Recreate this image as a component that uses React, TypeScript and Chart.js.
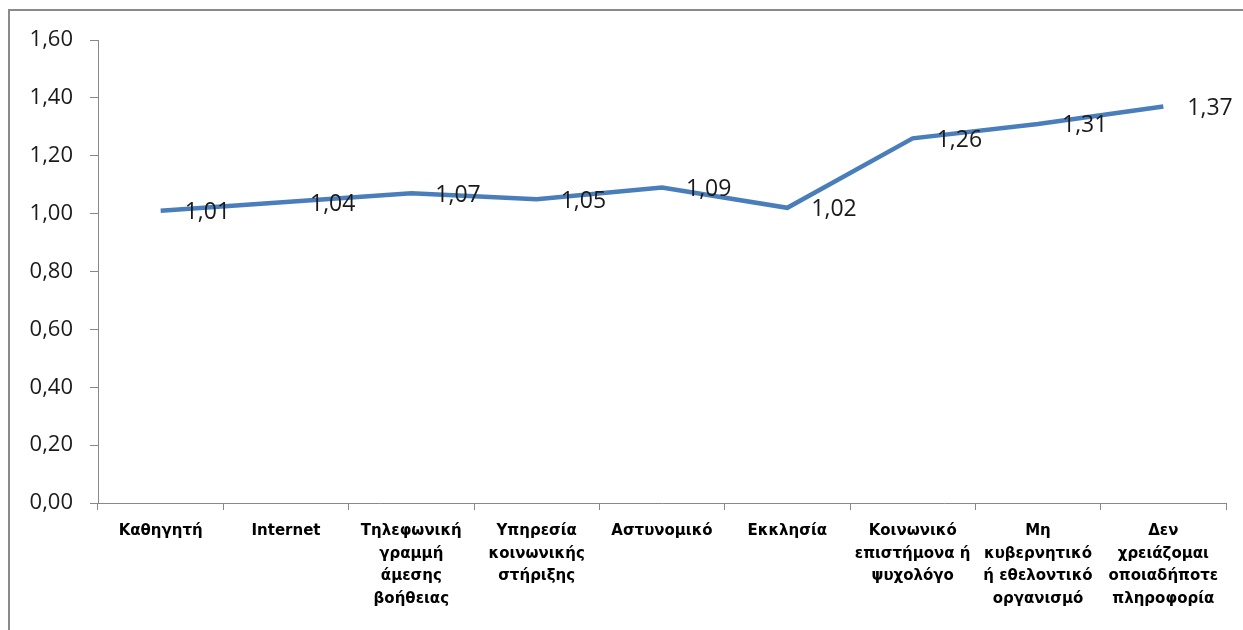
import React, { useEffect, useRef } from "react";
import { Chart, registerables } from "chart.js";

Chart.register(...registerables);

const categories: (string | string[])[] = [
  "Καθηγητή",
  "Internet",
  ["Τηλεφωνική", "γραμμή", "άμεσης", "βοήθειας"],
  ["Υπηρεσία", "κοινωνικής", "στήριξης"],
  "Αστυνομικό",
  "Εκκλησία",
  ["Κοινωνικό", "επιστήμονα ή", "ψυχολόγο"],
  ["Μη", "κυβερνητικό", "ή εθελοντικό", "οργανισμό"],
  ["Δεν", "χρειάζομαι", "οποιαδήποτε", "πληροφορία"],
];

const values = [1.01, 1.04, 1.07, 1.05, 1.09, 1.02, 1.26, 1.31, 1.37];

const yMin = 0;
const yMax = 1.6;
const yStep = 0.2;

const fmt = (v: number) => Number(v).toFixed(2).replace(".", ",");

export default function App() {
  const ref = useRef<HTMLCanvasElement>(null);

  useEffect(() => {
    if (!ref.current) return;
    const framePlugin = {
      id: "frame",
      beforeDraw(chart: any) {
        const ctx = chart.ctx;
        ctx.save();
        ctx.fillStyle = "#ffffff";
        ctx.fillRect(0, 0, chart.width, chart.height);
        ctx.strokeStyle = "#8a8a8a";
        ctx.lineWidth = 2;
        ctx.strokeRect(9, 10, 1400, 800);
        ctx.restore();
      },
    };
    const labelPlugin = {
      id: "valueLabels",
      afterDatasetsDraw(chart: any) {
        const ctx = chart.ctx;
        const meta = chart.getDatasetMeta(0);
        ctx.save();
        ctx.font = '23px "Open Sans"';
        ctx.fillStyle = "#1a1a1a";
        ctx.textAlign = "left";
        ctx.textBaseline = "middle";
        meta.data.forEach((pt: any, i: number) => {
          ctx.fillText(fmt(values[i]), pt.x + 24, pt.y + 2);
        });
        ctx.restore();
      },
    };
    const chart = new Chart(ref.current, {
      type: "line",
      data: {
        labels: categories,
        datasets: [
          {
            data: values,
            borderColor: "#4a7ebb",
            borderWidth: 4.5,
            pointRadius: 0,
            tension: 0,
            fill: false,
          },
        ],
      },
      options: {
        responsive: false,
        animation: false,
        layout: { padding: { top: 40, right: 17, left: 0, bottom: 0 } },
        plugins: {
          legend: { display: false },
          tooltip: { enabled: false },
        },
        scales: {
          x: {
            offset: true,
            grid: {
              offset: true,
              drawOnChartArea: false,
              tickLength: 7,
              color: "#888888",
            },
            border: { color: "#888888", width: 1 },
            ticks: {
              autoSkip: false,
              maxRotation: 0,
              minRotation: 0,
              color: "#000000",
              padding: 10,
              font: { family: "DejaVu Sans", size: 15, weight: "bold", lineHeight: 1.5 },
            },
            afterFit: (s: any) => {
              s.height = 127;
            },
          },
          y: {
            min: yMin,
            max: yMax,
            ticks: {
              stepSize: yStep,
              callback: (v: any) => fmt(v),
              color: "#1a1a1a",
              padding: 17,
              font: { family: "Open Sans", size: 22 },
            },
            grid: { drawOnChartArea: false, tickLength: 8, color: "#888888" },
            border: { color: "#888888" },
            afterFit: (s: any) => {
              s.width = 98;
            },
          },
        },
      },
      plugins: [framePlugin, labelPlugin],
    } as any);
    return () => chart.destroy();
  }, []);

  return (
    <div style={{ position: "fixed", left: 0, top: 0, width: 1243, height: 630, background: "#fff" }}>
      <canvas ref={ref} width={1243} height={630} style={{ display: "block" }} />
    </div>
  );
}
